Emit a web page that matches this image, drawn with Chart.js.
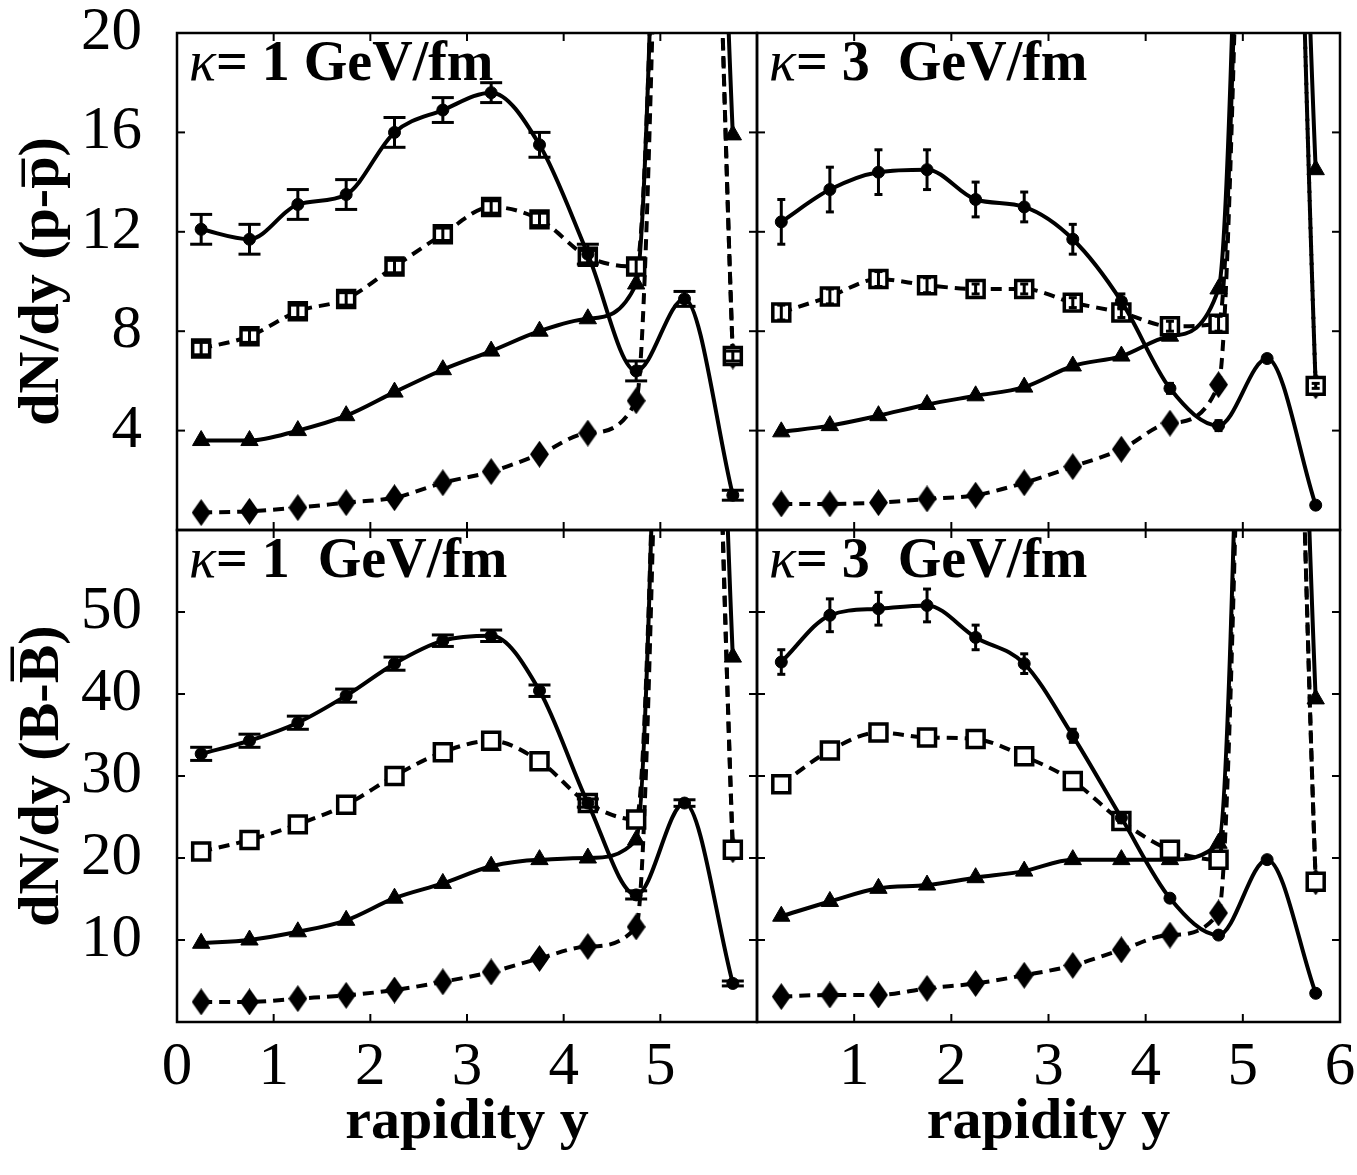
<!DOCTYPE html>
<html>
<head>
<meta charset="utf-8">
<title>dN/dy vs rapidity</title>
<script src="https://cdn.jsdelivr.net/npm/chart.js@4.4.1/dist/chart.umd.min.js"></script>
<style>
  html, body { margin: 0; padding: 0; background: #fff; }
  #box { width: 1357px; height: 1175px; }
</style>
</head>
<body>
<div id="box"><canvas id="chart" width="1357" height="1175"></canvas></div>
<script>
// rapidity bins, shared by every curve
const rapidity = [0.25, 0.75, 1.25, 1.75, 2.25, 2.75, 3.25, 3.75, 4.25, 4.75, 5.25, 5.75];

// kappa = 1 GeV/fm, p - pbar
const tlCircle    = [12.1, 11.7, 13.1, 13.5, 16.0, 16.9, 17.6, 15.5, 11.1, 6.4, 9.3, 1.4];
const tlCircleErr = [0.6, 0.6, 0.6, 0.6, 0.6, 0.5, 0.4, 0.5, 0.4, 0.4, 0.3, 0.2];
const tlSquare    = [7.3, 7.8, 8.8, 9.3, 10.6, 11.9, 13.0, 12.5, 11.0, 10.6, 60, 7.0];
const tlSquareErr = [0.25, 0.25, 0.25, 0.25, 0.25, 0.25, 0.25, 0.25, 0.25, 0.3, 0, 0.2];
const tlTriangle  = [3.6, 3.6, 4.0, 4.6, 5.55, 6.45, 7.2, 8.0, 8.5, 9.9, 60, 15.9];
const tlDiamond   = [0.7, 0.75, 0.9, 1.1, 1.3, 1.9, 2.35, 3.05, 3.9, 5.2, 60, 7.0];

// kappa = 3 GeV/fm, p - pbar
const trCircle    = [12.4, 13.7, 14.4, 14.5, 13.3, 13.0, 11.7, 9.2, 5.7, 4.2, 6.9, 1.0];
const trCircleErr = [0.9, 0.9, 0.9, 0.8, 0.7, 0.6, 0.6, 0.3, 0.2, 0.2, 0.1, 0.1];
const trSquare    = [8.75, 9.4, 10.1, 9.85, 9.7, 9.7, 9.15, 8.75, 8.2, 8.3, 60, 5.8];
const trSquareErr = [0.3, 0.3, 0.3, 0.3, 0.2, 0.2, 0.2, 0.2, 0.2, 0.3, 0, 0.1];
const trTriangle  = [3.95, 4.2, 4.6, 5.05, 5.4, 5.75, 6.6, 7.0, 7.8, 9.7, 60, 14.5];
const trDiamond   = [1.05, 1.05, 1.1, 1.25, 1.4, 1.9, 2.55, 3.25, 4.3, 5.85, 60, 5.8];

// kappa = 1 GeV/fm, B - Bbar
const blCircle    = [32.7, 34.3, 36.5, 39.8, 43.7, 46.5, 47.1, 40.4, 26.7, 15.5, 26.7, 4.7];
const blCircleErr = [0.8, 0.8, 0.8, 0.8, 0.8, 0.7, 0.7, 0.7, 0.5, 0.5, 0.4, 0.3];
const blSquare    = [20.8, 22.2, 24.1, 26.5, 30.0, 32.9, 34.3, 31.8, 26.7, 24.7, 180, 21.0];
const blTriangle  = [9.6, 10.0, 11.0, 12.4, 15.1, 16.9, 19.0, 19.8, 20.0, 22.2, 180, 44.5];
const blDiamond   = [2.45, 2.45, 2.85, 3.25, 3.9, 4.9, 6.1, 7.75, 9.2, 11.6, 180, 21.0];

// kappa = 3 GeV/fm, B - Bbar
const brCircle    = [43.9, 49.6, 50.4, 50.8, 46.9, 43.7, 34.9, 24.9, 15.1, 10.6, 19.8, 3.5];
const brCircleErr = [1.5, 2.0, 2.0, 2.0, 1.5, 1.2, 0.8, 0.6, 0.4, 0.3, 0.3, 0.2];
const brSquare    = [29.0, 33.1, 35.3, 34.7, 34.5, 32.4, 29.4, 24.5, 21.0, 19.8, 180, 17.1];
const brTriangle  = [12.9, 14.7, 16.3, 16.7, 17.6, 18.4, 19.8, 19.8, 19.8, 21.8, 180, 39.4];
const brDiamond   = [3.1, 3.3, 3.3, 4.1, 4.7, 5.7, 6.9, 8.8, 10.6, 13.3, 180, 17.1];

const panelLabels = ['= 1 GeV/fm', '= 3  GeV/fm', '= 1  GeV/fm', '= 3  GeV/fm'];
const xTitle = 'rapidity y';

const SERIF = '"Liberation Serif", "Times New Roman", serif';
Chart.defaults.color = '#000';
Chart.defaults.font.family = SERIF;

// tall diamond marker
function diamondSprite() {
  const c = document.createElement('canvas');
  c.width = 19; c.height = 27;
  const g = c.getContext('2d');
  g.fillStyle = '#000';
  g.beginPath();
  g.moveTo(9.5, 0); g.lineTo(19, 13.5); g.lineTo(9.5, 27); g.lineTo(0, 13.5);
  g.closePath();
  g.fill();
  return c;
}
const diamond = diamondSprite();

const styles = {
  circle:   { dash: [],      pointStyle: 'circle',   pointRadius: 6,  fill: '#000', bw: 1 },
  square:   { dash: [11, 7], pointStyle: 'rect',     pointRadius: 12, fill: '#fff', bw: 3.5 },
  triangle: { dash: [],      pointStyle: 'triangle', pointRadius: 10, fill: '#000', bw: 1 },
  diamond:  { dash: [11, 7], pointStyle: diamond,    pointRadius: 13, fill: '#000', bw: 1 },
};

function curve(values, kind, xAxisID, yAxisID, errors, cap) {
  const s = styles[kind];
  return {
    data: values.map((v, i) => ({ x: rapidity[i], y: v })),
    xAxisID, yAxisID,
    borderColor: '#000',
    backgroundColor: '#000',
    borderWidth: 4,
    borderDash: s.dash,
    cubicInterpolationMode: 'monotone',
    pointStyle: s.pointStyle,
    pointRadius: s.pointRadius,
    pointBackgroundColor: s.fill,
    pointBorderColor: '#000',
    pointBorderWidth: s.bw,
    fill: false,
    clip: 0,
    errors, cap,
  };
}

const datasets = [
  curve(tlCircle, 'circle', 'xL', 'yT', tlCircleErr, 11),
  curve(tlSquare, 'square', 'xL', 'yT', tlSquareErr, 9),
  curve(tlTriangle, 'triangle', 'xL', 'yT'),
  curve(tlDiamond, 'diamond', 'xL', 'yT'),
  curve(trCircle, 'circle', 'xR', 'yT', trCircleErr, 4),
  curve(trSquare, 'square', 'xR', 'yT', trSquareErr, 4),
  curve(trTriangle, 'triangle', 'xR', 'yT'),
  curve(trDiamond, 'diamond', 'xR', 'yT'),
  curve(blCircle, 'circle', 'xL', 'yB', blCircleErr, 11),
  curve(blSquare, 'square', 'xL', 'yB'),
  curve(blTriangle, 'triangle', 'xL', 'yB'),
  curve(blDiamond, 'diamond', 'xL', 'yB'),
  curve(brCircle, 'circle', 'xR', 'yB', brCircleErr, 4),
  curve(brSquare, 'square', 'xR', 'yB'),
  curve(brTriangle, 'triangle', 'xR', 'yB'),
  curve(brDiamond, 'diamond', 'xR', 'yB'),
];

const panels = [
  { x: 'xL', y: 'yT', label: panelLabels[0] },
  { x: 'xR', y: 'yT', label: panelLabels[1] },
  { x: 'xL', y: 'yB', label: panelLabels[2] },
  { x: 'xR', y: 'yB', label: panelLabels[3] },
];

function xAxis(hide, weight) {
  return {
    type: 'linear', position: 'bottom', stack: 'x', stackWeight: weight,
    min: 0, max: 6,
    grid: { display: false, drawTicks: false },
    border: { display: false },
    ticks: {
      stepSize: 1, autoSkip: false, maxRotation: 0, padding: 9,
      font: { size: 61 },
      callback: v => (v === hide ? '' : String(v)),
    },
    title: { display: true, text: xTitle, font: { size: 58, weight: 'bold' }, padding: { top: 0, bottom: 17 } },
    afterFit: s => { s.height = 153; s.paddingLeft = 0; s.paddingRight = 0; },
  };
}

function yAxis(max, step, weight, order) {
  return {
    type: 'linear', position: 'left', stack: 'y', stackWeight: weight, weight: order,
    min: 0, max,
    grid: { display: false, drawTicks: false },
    border: { display: false },
    ticks: {
      stepSize: step, autoSkip: false, padding: 35,
      font: { size: 61 },
      callback: v => (v === 0 || v === max ? (v === 20 ? '20' : '') : String(v)),
    },
    afterFit: s => { s.width = 177; s.paddingTop = 0; s.paddingBottom = 0; },
  };
}

function line(ctx, x1, y1, x2, y2) {
  ctx.beginPath(); ctx.moveTo(x1, y1); ctx.lineTo(x2, y2); ctx.stroke();
}

function drawBarTitle(ctx, cx, cy, before, barred, after, barY) {
  ctx.save();
  ctx.translate(cx, cy);
  ctx.rotate(-Math.PI / 2);
  ctx.font = 'bold 58px ' + SERIF;
  ctx.textBaseline = 'alphabetic';
  ctx.textAlign = 'left';
  ctx.fillStyle = '#000';
  const w1 = ctx.measureText(before).width;
  const w2 = ctx.measureText(barred).width;
  const w3 = ctx.measureText(after).width;
  let x = -(w1 + w2 + w3) / 2;
  ctx.fillText(before, x, 0); x += w1;
  ctx.fillText(barred, x, 0);
  ctx.fillRect(x + 2, barY - 1.5, w2 - 4, 3.5);
  x += w2;
  ctx.fillText(after, x, 0);
  ctx.restore();
}

const decor = {
  id: 'decor',
  afterDatasetsDraw(chart) {
    const ctx = chart.ctx;
    ctx.save();
    ctx.strokeStyle = '#000';
    ctx.fillStyle = '#000';

    // error bars
    chart.data.datasets.forEach((ds, i) => {
      if (!ds.errors) return;
      const meta = chart.getDatasetMeta(i);
      const xs = meta.xScale, ys = meta.yScale;
      ctx.save();
      ctx.beginPath();
      ctx.rect(xs.left, ys.top, xs.right - xs.left, ys.bottom - ys.top);
      ctx.clip();
      ctx.lineWidth = 3;
      ds.data.forEach((p, j) => {
        const e = ds.errors[j];
        if (!e) return;
        const px = xs.getPixelForValue(p.x);
        const lo = ys.getPixelForValue(p.y - e);
        const hi = ys.getPixelForValue(p.y + e);
        line(ctx, px, lo, px, hi);
        line(ctx, px - ds.cap, lo, px + ds.cap, lo);
        line(ctx, px - ds.cap, hi, px + ds.cap, hi);
      });
      ctx.restore();
    });

    // frames with inward ticks
    panels.forEach(p => {
      const xs = chart.scales[p.x], ys = chart.scales[p.y];
      ctx.lineWidth = 2.5;
      ctx.strokeRect(xs.left, ys.top, xs.right - xs.left, ys.bottom - ys.top);
      ctx.lineWidth = 2;
      for (let v = 1; v < 6; v++) {
        const px = xs.getPixelForValue(v);
        line(ctx, px, ys.bottom, px, ys.bottom - 8);
        line(ctx, px, ys.top, px, ys.top + 8);
      }
      ys.ticks.forEach(t => {
        const py = ys.getPixelForValue(t.value);
        line(ctx, xs.left, py, xs.left + 8, py);
        line(ctx, xs.right, py, xs.right - 8, py);
      });

      // kappa label
      const tx = xs.left + 12, ty = ys.top + 47;
      ctx.textBaseline = 'alphabetic';
      ctx.textAlign = 'left';
      ctx.font = 'italic 56px ' + SERIF;
      ctx.fillText('κ', tx, ty);
      const kw = ctx.measureText('κ').width;
      ctx.font = 'bold 56px ' + SERIF;
      ctx.fillText(p.label, tx + kw, ty);
    });

    // y titles with overline
    const yT = chart.scales.yT, yB = chart.scales.yB;
    drawBarTitle(ctx, 58, (yT.top + yT.bottom) / 2, 'dN/dy (p-', 'p', ')', -35);
    drawBarTitle(ctx, 58, (yB.top + yB.bottom) / 2, 'dN/dy (B-', 'B', ')', -46);
    ctx.restore();
  },
};

new Chart(document.getElementById('chart'), {
  type: 'line',
  data: { datasets },
  options: {
    responsive: false,
    animation: false,
    events: [],
    layout: { padding: { top: 33, right: 17, left: 0, bottom: 0 } },
    plugins: { legend: { display: false }, tooltip: { enabled: false } },
    scales: {
      xL: xAxis(6, 580),
      xR: xAxis(0, 583),
      yT: yAxis(20, 4, 497, 1),
      yB: yAxis(60, 10, 492, 0),
    },
  },
  plugins: [decor],
});
</script>
</body>
</html>
